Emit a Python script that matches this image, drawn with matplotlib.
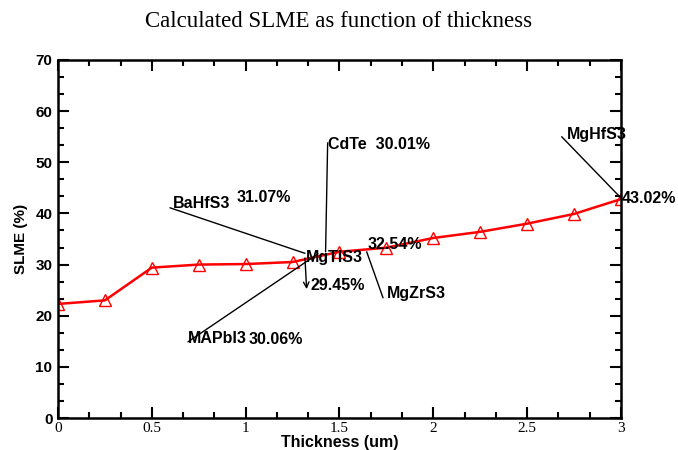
import matplotlib
matplotlib.use("Agg")
import matplotlib.pyplot as plt
from matplotlib.ticker import MultipleLocator

thickness = [0, 0.25, 0.5, 0.75, 1.0, 1.25, 1.5, 1.75, 2.0, 2.25, 2.5, 2.75, 3.0]
slme = [22.3, 23.0, 29.4, 30.0, 30.1, 30.5, 32.5, 33.3, 35.2, 36.4, 38.0, 39.9, 42.8]
x_ticks = [0, 0.5, 1, 1.5, 2, 2.5, 3]
x_tick_labels = ["0", "0.5", "1", "1.5", "2", "2.5", "3"]
y_ticks = [0, 10, 20, 30, 40, 50, 60, 70]

fig = plt.figure(figsize=(6.78, 4.5), dpi=100)
ax = fig.add_axes([0.0855, 0.0711, 0.8304, 0.7956])

ax.plot(thickness, slme, color="red", linewidth=1.8, marker="^",
        markersize=9, markerfacecolor="none", markeredgecolor="red",
        markeredgewidth=1.0)

ax.set_xlim(0, 3)
ax.set_ylim(0, 70)
ax.set_xticks(x_ticks)
ax.set_xticklabels(x_tick_labels, family="Liberation Serif", fontsize=11)
ax.set_yticks(y_ticks)
ax.set_yticklabels([str(v) for v in y_ticks], family="Liberation Sans",
                   fontweight="bold", fontsize=11)
ax.xaxis.set_minor_locator(MultipleLocator(0.5 / 3))
ax.yaxis.set_minor_locator(MultipleLocator(10 / 3))
ax.tick_params(which="both", direction="in", top=True, right=True, width=1.5)
ax.tick_params(which="major", length=8)
ax.tick_params(axis="x", which="major", pad=3)
ax.tick_params(axis="y", which="major", pad=4)
ax.tick_params(which="minor", length=4)
for s in ax.spines.values():
    s.set_linewidth(1.8)

ax.set_xlabel("Thickness (um)", family="Liberation Sans", fontweight="bold",
              fontsize=11.5, labelpad=0)
ax.set_ylabel("SLME (%)", family="Liberation Sans", fontweight="bold",
              fontsize=11, labelpad=5)
fig.text(0.5, 0.953, "Calculated SLME as function of thickness",
         family="Liberation Serif", fontsize=16.5, ha="center", va="center")

txt = dict(family="Liberation Sans", fontweight="bold", fontsize=11.5, va="center")
line = dict(arrowstyle="-", color="black", linewidth=1.0, shrinkA=0, shrinkB=0)

# BaHfS3
ax.annotate("", xy=(1.316, 32.2), xytext=(0.597, 41.1), arrowprops=line)
ax.text(0.613, 42.0, "BaHfS3", **txt)
ax.text(0.954, 43.1, "31.07%", **txt)
# CdTe
ax.annotate("", xy=(1.426, 32.5), xytext=(1.437, 53.8), arrowprops=line)
ax.text(1.439, 53.4, "CdTe  30.01%", **txt)
# MAPbI3
ax.annotate("", xy=(1.385, 32.1), xytext=(0.693, 14.9), arrowprops=line)
ax.text(0.693, 15.6, "MAPbI3", **txt)
ax.text(1.018, 15.3, "30.06%", **txt)
# MgTIS3
ax.text(1.320, 31.3, "MgTIS3", **txt)
ax.annotate("", xy=(1.325, 25.2), xytext=(1.316, 31.3),
            arrowprops=dict(arrowstyle="->", color="black", linewidth=1.0,
                            shrinkA=0, shrinkB=0))
ax.text(1.343, 26.0, "29.45%", **txt)
# MgZrS3
ax.annotate("", xy=(1.732, 23.5), xytext=(1.645, 32.5), arrowprops=line)
ax.text(1.752, 24.4, "MgZrS3", **txt)
ax.text(1.652, 34.0, "32.54%", **txt)
# MgHfS3
ax.annotate("", xy=(2.995, 43.2), xytext=(2.684, 55.0), arrowprops=line)
ax.text(2.711, 55.5, "MgHfS3", **txt)
ax.text(3.004, 43.0, "43.02%", clip_on=False, **txt)

fig.savefig("out.png", dpi=100)
